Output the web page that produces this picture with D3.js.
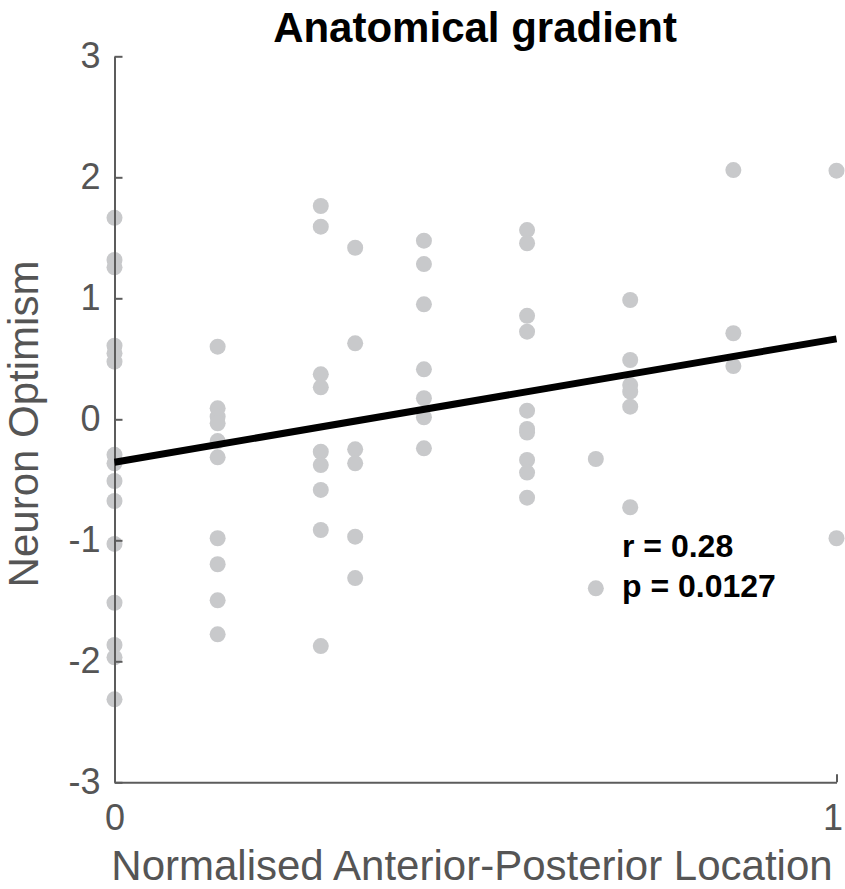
<!DOCTYPE html>
<html>
<head>
<meta charset="utf-8">
<script src="https://cdn.jsdelivr.net/npm/d3@7"></script>
<style>
  html, body { margin: 0; padding: 0; background: #fff; }
  svg { display: block; }
  text { font-family: "Liberation Sans", Arial, Helvetica, sans-serif; }
</style>
</head>
<body>
<svg id="chart" width="845" height="889"></svg>
<script>
// ---- data ----
const chartTitle = "Anatomical gradient";
const xLabel = "Normalised Anterior-Posterior Location";
const yLabel = "Neuron Optimism";
const xTicks = [0, 1];
const yTicks = [-3, -2, -1, 0, 1, 2, 3];

// anterior-posterior positions (columns) and optimism values in each column
const columnX = [0, 1/7, 2/7, 1/3, 3/7, 4/7, 2/3, 5/7, 6/7, 1];
const columnValues = [
  [1.665, 1.317, 1.256, 0.608, 0.545, 0.476, -0.294, -0.364, -0.51, -0.675, -1.03, -1.516, -1.865, -1.967, -2.314],
  [0.60, 0.091, 0.021, -0.033, -0.18, -0.314, -0.983, -1.198, -1.496, -1.777],
  [1.763, 1.592, 0.372, 0.264, -0.268, -0.378, -0.584, -0.915, -1.874],
  [1.418, 0.628, -0.248, -0.364, -0.970, -1.312],
  [1.476, 1.283, 0.950, 0.413, 0.174, 0.017, -0.240],
  [1.564, 1.455, 0.855, 0.724, 0.071, -0.08, -0.11, -0.336, -0.44, -0.648],
  [-0.328, -1.397],
  [0.986, 0.490, 0.283, 0.228, 0.104, -0.727],
  [2.06, 0.711, 0.44],
  [2.055, -0.983]
];

// least-squares fit line endpoints
const fitX = [0, 1];
const fitY = [-0.355, 0.665];

const statLines = ["r = 0.28", "p = 0.0127"];

// ---- build ----
const points = [];
columnX.forEach((cx, i) => columnValues[i].forEach(v => points.push({x: cx, y: v})));

const svg = d3.select("#chart");
const x = d3.scaleLinear().domain([0, 1]).range([114.5, 836.5]);
const y = d3.scaleLinear().domain([-3, 3]).range([782.3, 56.3]);

const axisColor = "#5c5c5c";
const labelColor = "#555555";
const fmt = d => String(d);

// points
svg.append("g")
  .selectAll("circle")
  .data(points)
  .join("circle")
  .attr("cx", d => x(d.x))
  .attr("cy", d => y(d.y))
  .attr("r", 8)
  .attr("fill", "#c8c9cb");

// y axis
const yAxis = svg.append("g")
  .attr("transform", `translate(${x(0)},0)`)
  .call(d3.axisLeft(y).tickValues(yTicks).tickFormat(fmt)
    .tickSizeInner(-8).tickSizeOuter(0).tickPadding(14));
yAxis.select(".domain").attr("stroke", axisColor).attr("stroke-width", 2);
yAxis.selectAll(".tick line").attr("stroke", axisColor).attr("stroke-width", 2);
yAxis.selectAll(".tick text")
  .attr("fill", labelColor)
  .style("font-size", "36px")
  .style("font-family", "'Liberation Sans', Arial, sans-serif");

// x axis
const xAxis = svg.append("g")
  .attr("transform", `translate(0,${y(-3)})`)
  .call(d3.axisBottom(x).tickValues(xTicks).tickFormat(fmt)
    .tickSizeInner(-8).tickSizeOuter(0).tickPadding(22));
xAxis.select(".domain").attr("stroke", axisColor).attr("stroke-width", 2);
xAxis.selectAll(".tick line").attr("stroke", axisColor).attr("stroke-width", 2);
xAxis.selectAll(".tick text")
  .attr("fill", labelColor)
  .attr("dx", d => d === 1 ? -4 : 0)
  .style("font-size", "36px")
  .style("font-family", "'Liberation Sans', Arial, sans-serif");

// fit line
svg.append("path")
  .datum(fitX.map((fx, i) => [fx, fitY[i]]))
  .attr("d", d3.line().x(d => x(d[0])).y(d => y(d[1])))
  .attr("fill", "none")
  .attr("stroke", "#000")
  .attr("stroke-width", 7);

// title
svg.append("text")
  .attr("x", 475)
  .attr("y", 42)
  .attr("text-anchor", "middle")
  .attr("fill", "#000")
  .style("font-size", "42px")
  .style("font-weight", "bold")
  .text(chartTitle);

// x label
svg.append("text")
  .attr("x", 472)
  .attr("y", 880)
  .attr("text-anchor", "middle")
  .attr("fill", labelColor)
  .style("font-size", "42px")
  .text(xLabel);

// y label
svg.append("text")
  .attr("transform", `translate(38,424) rotate(-90)`)
  .attr("text-anchor", "middle")
  .attr("fill", labelColor)
  .style("font-size", "42px")
  .text(yLabel);

// stats annotation
svg.append("g")
  .selectAll("text")
  .data(statLines)
  .join("text")
  .attr("x", 622)
  .attr("y", (d, i) => 557 + i * 40)
  .attr("fill", "#000")
  .style("font-size", "32px")
  .style("font-weight", "bold")
  .text(d => d);
</script>
</body>
</html>
